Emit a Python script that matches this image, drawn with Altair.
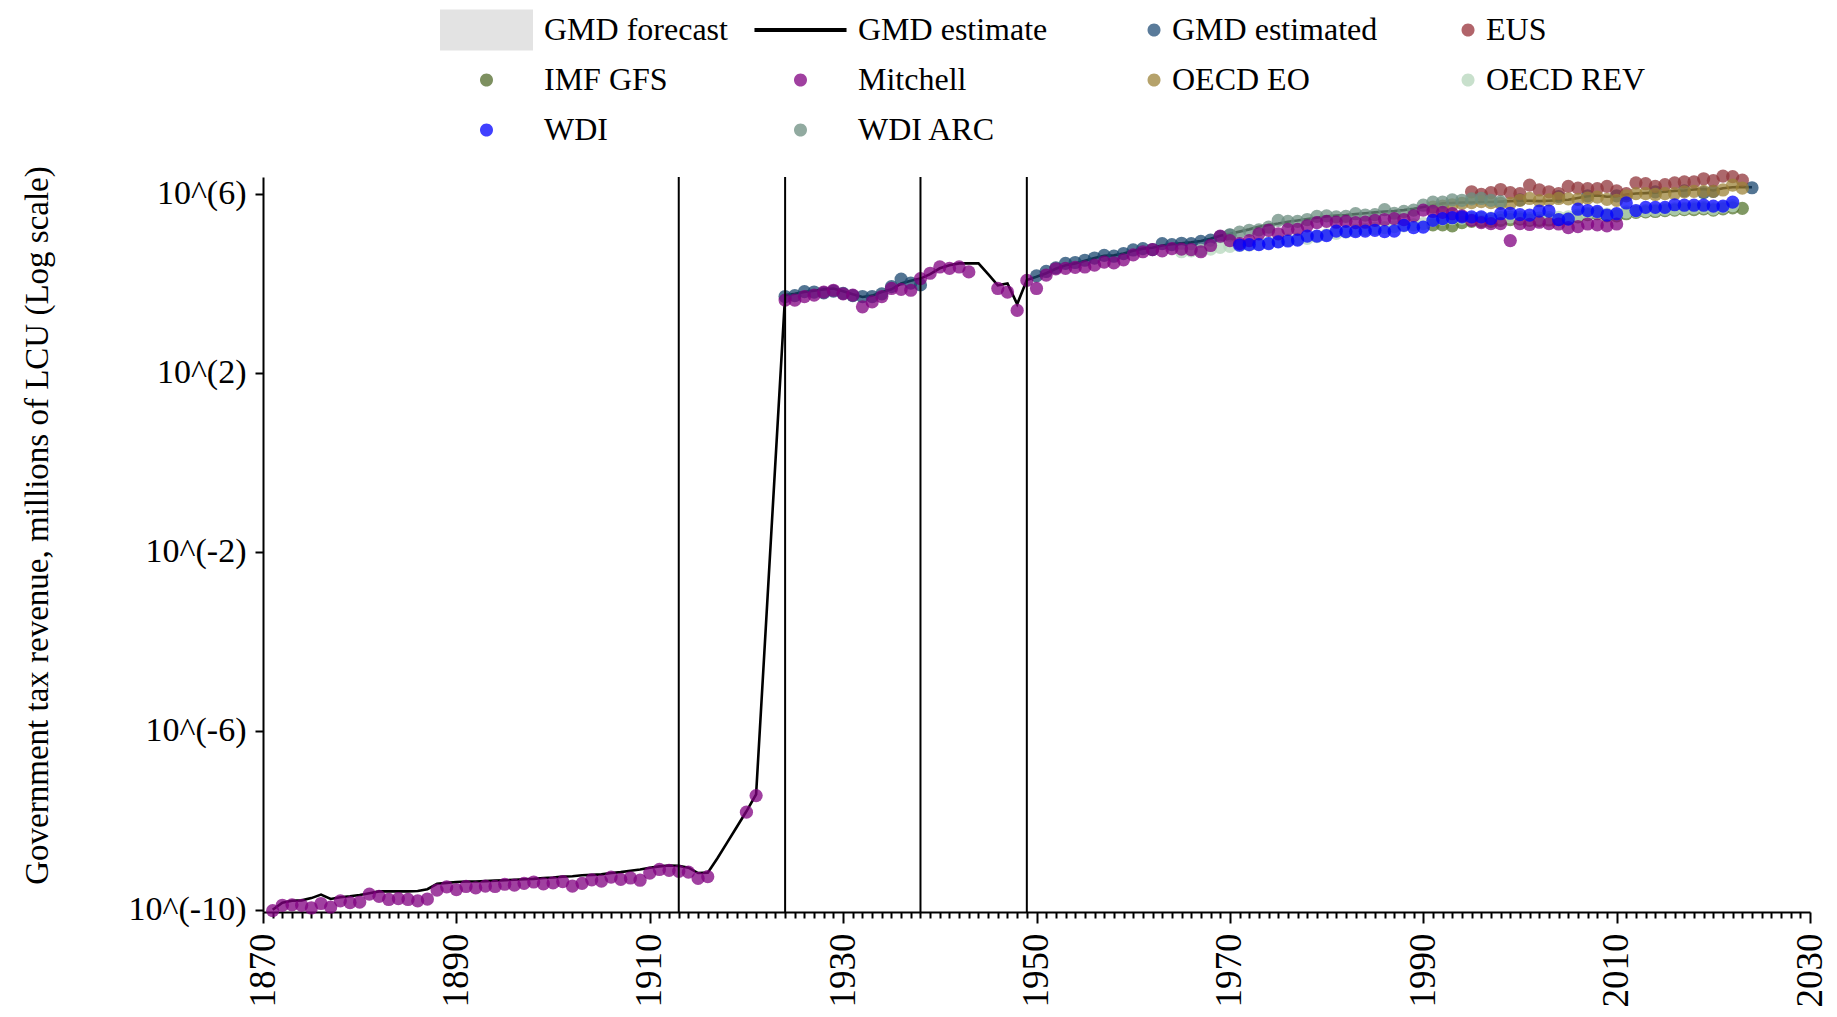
import altair as alt
import pandas as pd

# ---------------- categories / legend ----------------
SERIES = ["GMD forecast", "GMD estimate", "GMD estimated", "EUS",
          "IMF GFS", "Mitchell", "OECD EO", "OECD REV",
          "WDI", "WDI ARC"]
LEGEND_COLORS = ["#e3e3e3", "#000000", "#5a7b9a", "#b1646a",
                 "#7d9060", "#a040a0", "#b5a26b", "#c8e0cc",
                 "#4040ff", "#91aaa0"]

POINT_SERIES = ["GMD estimated", "EUS", "OECD EO", "WDI ARC",
                "IMF GFS", "OECD REV", "Mitchell", "WDI"]
POINT_COLORS = ["#1a476f", "#90353b", "#9c8339", "#6c8d80",
                "#55752f", "#b5d7bc", "#800080", "#0000ff"]

CURRENCY_BREAKS = [1913, 1924, 1938, 1949]

# ---------------- values: log10 of millions of LCU ----------------
line_years = list(range(1871, 1922)) + list(range(1924, 2025))
line_logs = [
    -10.00, -9.84, -9.80, -9.79, -9.74, -9.66, -9.76, -9.72, -9.70, -9.67,
    -9.63, -9.59, -9.59, -9.59, -9.59, -9.58, -9.54, -9.42, -9.40, -9.38,
    -9.37, -9.37, -9.36, -9.35, -9.34, -9.33, -9.32, -9.31, -9.29, -9.28,
    -9.26, -9.25, -9.23, -9.22, -9.21, -9.18, -9.16, -9.13, -9.10, -9.06,
    -9.03, -9.01, -9.02, -9.06, -9.18, -9.17, -8.85, -8.50, -8.15, -7.80,
    -7.42,
    3.73, 3.76, 3.80, 3.83, 3.86, 3.88, 3.82, 3.75, 3.69, 3.72,
    3.80, 3.86, 3.99, 4.05, 4.10, 4.20, 4.33, 4.40, 4.44, 4.44,
    4.44, 4.20, 3.95, 3.99, 3.53, 4.07, 4.14, 4.22, 4.32, 4.40,
    4.44, 4.50, 4.56, 4.61, 4.62, 4.66, 4.72, 4.77, 4.79, 4.84,
    4.87, 4.89, 4.91, 4.94, 4.99, 5.06, 5.10, 5.15, 5.20, 5.26,
    5.30, 5.33, 5.37, 5.40, 5.43, 5.46, 5.49, 5.51, 5.52, 5.54,
    5.56, 5.58, 5.60, 5.61, 5.63, 5.66, 5.70, 5.74, 5.78, 5.79,
    5.80, 5.80, 5.81, 5.81, 5.82, 5.83, 5.84, 5.84, 5.83, 5.84,
    5.85, 5.86, 5.90, 5.94, 5.96, 5.93, 5.94, 5.98, 6.00, 6.01,
    6.02, 6.04, 6.06, 6.07, 6.09, 6.10, 6.07, 6.12, 6.14, 6.15,
    6.14,
]

gmd_est_years = (list(range(1924, 1939)) + list(range(1950, 1971))
                 + [2000, 2004, 2007, 2010, 2014, 2017, 2019, 2020, 2024])
gmd_est_logs = [
    3.70, 3.72, 3.81, 3.80, 3.78, 3.82, 3.77, 3.72, 3.70, 3.70,
    3.76, 3.92, 4.09, 4.00, 3.96,
    4.16, 4.26, 4.34, 4.44, 4.46, 4.51, 4.56, 4.62, 4.60, 4.66,
    4.74, 4.77, 4.75, 4.88, 4.86, 4.89, 4.88, 4.93, 4.96, 5.04,
    5.07,
    5.86, 5.93, 5.95, 5.95, 6.04, 6.06, 6.02, 6.05, 6.13,
]

mitchell_years = (list(range(1871, 1917)) + [1920, 1921]
                  + list(range(1924, 1944)) + list(range(1946, 2011)))
mitchell_logs = [
    -10.02, -9.90, -9.89, -9.90, -9.96, -9.86, -9.94, -9.80, -9.84, -9.83,
    -9.65, -9.70, -9.77, -9.75, -9.77, -9.80, -9.76, -9.56, -9.49, -9.55,
    -9.48, -9.51, -9.47, -9.48, -9.43, -9.45, -9.41, -9.38, -9.42, -9.40,
    -9.37, -9.47, -9.41, -9.33, -9.36, -9.27, -9.32, -9.29, -9.34, -9.18,
    -9.10, -9.12, -9.14, -9.16, -9.30, -9.26,
    -7.82, -7.45,
    3.62, 3.62, 3.70, 3.73, 3.80, 3.84, 3.76, 3.73, 3.47, 3.58,
    3.70, 3.88, 3.86, 3.84, 4.10, 4.22, 4.36, 4.33, 4.36, 4.25,
    3.88, 3.80, 3.39, 4.06, 3.88, 4.18, 4.32, 4.33,
    4.35, 4.36, 4.40, 4.47, 4.45, 4.52, 4.63, 4.70, 4.75, 4.72,
    4.77, 4.76, 4.75, 4.70, 4.84, 5.05, 4.95, 4.88, 4.95, 5.10,
    5.18, 5.10, 5.20, 5.20, 5.28, 5.35, 5.38, 5.36, 5.38, 5.35,
    5.36, 5.40, 5.42, 5.44, 5.42, 5.50, 5.63, 5.60, 5.58, 5.55,
    5.50, 5.40, 5.35, 5.33, 5.33, 4.95, 5.33, 5.31, 5.36, 5.33,
    5.32, 5.24, 5.26, 5.32, 5.30, 5.28, 5.32,
]

wdi_years = list(range(1971, 2023))
wdi_logs = [
    4.85, 4.86, 4.86, 4.88, 4.92, 4.94, 4.96, 5.05, 5.05, 5.06,
    5.16, 5.15, 5.15, 5.16, 5.18, 5.15, 5.16, 5.29, 5.24, 5.25,
    5.40, 5.44, 5.46, 5.48, 5.48, 5.48, 5.44, 5.55, 5.56, 5.53,
    5.52, 5.61, 5.61, 5.42, 5.43, 5.65, 5.62, 5.60, 5.52, 5.55,
    5.79, 5.62, 5.69, 5.69, 5.69, 5.75, 5.74, 5.74, 5.74, 5.72,
    5.72, 5.81,
]

wdi_arc_years = list(range(1970, 1999))
wdi_arc_logs = [
    5.08, 5.14, 5.18, 5.19, 5.25, 5.40, 5.38, 5.38, 5.42, 5.49,
    5.50, 5.48, 5.49, 5.55, 5.52, 5.53, 5.64, 5.56, 5.60, 5.63,
    5.74, 5.81, 5.81, 5.86, 5.85, 5.88, 5.89, 5.85, 5.82,
]

eus_years = list(range(1995, 2024))
eus_logs = [
    6.04, 5.98, 6.02, 6.09, 6.02, 6.00, 6.19, 6.08, 6.04, 6.00,
    6.16, 6.12, 6.11, 6.11, 6.16, 6.06, 6.00, 6.24, 6.22, 6.16,
    6.20, 6.24, 6.26, 6.26, 6.33, 6.29, 6.39, 6.38, 6.30,
]

oecd_eo_years = list(range(1991, 2024))
oecd_eo_logs = [
    5.70, 5.72, 5.75, 5.78, 5.80, 5.82, 5.80, 5.78, 5.78, 5.85,
    5.89, 5.84, 5.86, 5.89, 5.88, 5.87, 5.90, 5.92, 5.87, 5.85,
    5.95, 6.00, 6.00, 5.98, 6.00, 6.00, 6.04, 6.05, 6.05, 6.05,
    6.08, 6.19, 6.12,
]

oecd_rev_years = list(range(1965, 2023))
oecd_rev_logs = [
    4.70, 4.72, 4.73, 4.76, 4.80, 4.82, 4.84, 4.85, 4.87, 4.90,
    4.93, 4.96, 4.98, 5.00, 5.04, 5.08, 5.11, 5.14, 5.18, 5.20,
    5.22, 5.24, 5.26, 5.28, 5.30, 5.33, 5.40, 5.43, 5.44, 5.45,
    5.44, 5.45, 5.45, 5.46, 5.48, 5.47, 5.44, 5.45, 5.46, 5.47,
    5.48, 5.52, 5.56, 5.58, 5.54, 5.54, 5.59, 5.61, 5.62, 5.63,
    5.65, 5.66, 5.67, 5.68, 5.69, 5.66, 5.70, 5.73,
]

imf_years = list(range(1991, 2024))
imf_logs = [
    5.30, 5.30, 5.28, 5.35, 5.38, 5.38, 5.38, 5.40, 5.42, 5.43,
    5.40, 5.40, 5.41, 5.42, 5.44, 5.48, 5.53, 5.55, 5.50, 5.50,
    5.55, 5.58, 5.59, 5.60, 5.62, 5.63, 5.64, 5.64, 5.66, 5.63,
    5.66, 5.68, 5.67,
]


def to_rows(name, years, logs):
    return [{"series": name, "year": y, "value": 10.0 ** v}
            for y, v in zip(years, logs)]


line_df = pd.DataFrame(to_rows("GMD estimate", line_years, line_logs))

point_sources = {
    "GMD estimated": (gmd_est_years, gmd_est_logs),
    "EUS": (eus_years, eus_logs),
    "OECD EO": (oecd_eo_years, oecd_eo_logs),
    "WDI ARC": (wdi_arc_years, wdi_arc_logs),
    "IMF GFS": (imf_years, imf_logs),
    "OECD REV": (oecd_rev_years, oecd_rev_logs),
    "Mitchell": (mitchell_years, mitchell_logs),
    "WDI": (wdi_years, wdi_logs),
}
rows = []
for name in POINT_SERIES:
    ys, ls = point_sources[name]
    rows += to_rows(name, ys, ls)
points_df = pd.DataFrame(rows)
breaks_df = pd.DataFrame({"year": CURRENCY_BREAKS})
legend_df = pd.DataFrame({"series": SERIES})

# ---------------- legend symbols (unit box -1..1) ----------------
BOX = "M-1,-0.44M1,0.44"


def dot(cx, r=0.14):
    return (f"{BOX}M{cx - r},0A{r},{r},0,1,0,{cx + r},0"
            f"A{r},{r},0,1,0,{cx - r},0Z")


SHAPES = [
    "M-1,-0.44L1,-0.44L1,0.44L-1,0.44Z",          # GMD forecast
    BOX + "M-0.99,-0.045L0.99,-0.045L0.99,0.045L-0.99,0.045Z",  # GMD estimate
    dot(0.85), dot(0.85),                          # GMD estimated, EUS
    dot(0.0), dot(0.0),                            # IMF GFS, Mitchell
    dot(0.85), dot(0.85),                          # OECD EO, OECD REV
    dot(0.0), dot(0.0),                            # WDI, WDI ARC
]

FONT = "Liberation Serif"

legend = alt.Legend(
    orient="none", legendX=177, legendY=-168, columns=4, direction="horizontal",
    gridAlign="all", columnPadding=4, rowPadding=8, clipHeight=42,
    symbolSize=8649, symbolStrokeWidth=0, labelOffset=11,
    labelFont=FONT, labelFontSize=32, labelColor="black", labelLimit=500,
    title=None, padding=0,
)

MAJOR = "(datum.value - 1870) % 20 === 0"

x_axis = alt.Axis(
    title=None, values=list(range(1870, 2031)), format="d",
    labelExpr=MAJOR + " ? datum.label : ''",
    labelAngle=270, labelFont=FONT, labelFontSize=37, labelColor="black",
    labelPadding=10, labelFlush=False, labelOverlap=False,
    tickSize={"condition": {"test": MAJOR, "value": 11}, "value": 6},
    tickWidth=2, tickColor="black", domainColor="black", domainWidth=2, grid=False,
)
y_axis = alt.Axis(
    title="Government tax revenue, millions of LCU (Log scale)",
    values=[1e-10, 1e-6, 1e-2, 1e2, 1e6],
    labelExpr="'10^(' + round(log(datum.value) / LN10) + ')'",
    labelFont=FONT, labelFontSize=34, labelColor="black", labelPadding=9,
    labelOverlap=False,
    tickSize=8, tickWidth=2, tickColor="black", domainColor="black", domainWidth=2,
    grid=False,
    titleFont=FONT, titleFontSize=33, titleFontWeight="normal", titleColor="black",
    titleX=-226, titleY=348, titleAngle=270, titleAlign="center",
    titleBaseline="middle",
)

X = alt.X("year:Q", scale=alt.Scale(domain=[1870, 2030], nice=False, zero=False),
          axis=x_axis)
Y = alt.Y("value:Q", scale=alt.Scale(type="log", domain=[10 ** -10.05, 10 ** 6.37],
                                     nice=False), axis=y_axis)

line = alt.Chart(line_df).mark_line(color="black", strokeWidth=2.6).encode(
    x=X, y=Y, order="year:Q")

points = alt.Chart(points_df).mark_circle(size=175, opacity=0.75).encode(
    x=X, y=Y,
    color=alt.Color("series:N", scale=alt.Scale(domain=POINT_SERIES, range=POINT_COLORS),
                    legend=None),
)

rules = alt.Chart(breaks_df).mark_rule(color="black", strokeWidth=2).encode(x=X)

legend_layer = alt.Chart(legend_df).transform_filter("false").mark_point(
    filled=True, opacity=1).encode(
    color=alt.Color("series:N", scale=alt.Scale(domain=SERIES, range=LEGEND_COLORS),
                    legend=legend),
    shape=alt.Shape("series:N", scale=alt.Scale(domain=SERIES, range=SHAPES),
                    legend=legend),
)

chart = alt.layer(line, points, rules, legend_layer).resolve_scale(
    color="independent", shape="independent"
).properties(
    width=1547, height=735,
    autosize=alt.AutoSizeParams(type="none"),
    padding={"left": 255, "top": 169, "right": 19, "bottom": 97},
    background="white",
).configure_view(stroke=None)

chart.save("out.html", embed_options={"renderer": "svg", "actions": False})
